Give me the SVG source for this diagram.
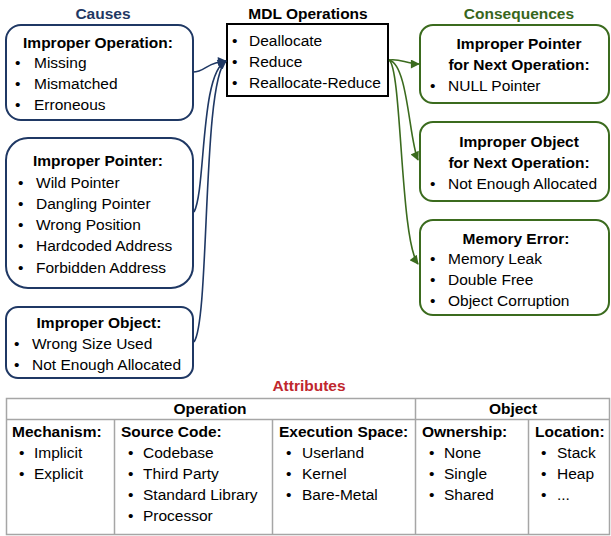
<svg xmlns="http://www.w3.org/2000/svg" width="611" height="536" viewBox="0 0 611 536">
  <style>
    text { font-family: "Liberation Sans", Arial, sans-serif; font-size: 15.5px; fill: #000; }
    .b { font-weight: bold; }
    .c { text-anchor: middle; }
    .blue { fill: #1f3864; }
    .green { fill: #38661c; }
    .red { fill: #c0272d; }
    .cause { fill: #fff; stroke: #1f3864; stroke-width: 2; }
    .cons { fill: #fff; stroke: #3b6b1e; stroke-width: 2; }
    .ops { fill: #fff; stroke: #000; stroke-width: 2; }
    .bl { stroke: #1f3864; stroke-width: 1.6; fill: none; }
    .gr { stroke: #3b6b1e; stroke-width: 1.6; fill: none; }
    .tbl { stroke: #a6a6a6; stroke-width: 1.5; fill: none; }
  </style>
  <defs>
    <marker id="arrBlue" viewBox="0 0 10 10" refX="9" refY="5" markerWidth="10" markerHeight="9" markerUnits="userSpaceOnUse" orient="auto">
      <path d="M0,0 L10,5 L0,10 z" fill="#1f3864"/>
    </marker>
    <marker id="arrGreen" viewBox="0 0 10 10" refX="9" refY="5" markerWidth="11" markerHeight="9" markerUnits="userSpaceOnUse" orient="auto">
      <path d="M0,0 L10,5 L0,10 z" fill="#3b6b1e"/>
    </marker>
  </defs>

  <!-- column headings -->
  <text class="b c blue" x="103" y="19">Causes</text>
  <text class="b c" x="308" y="19">MDL Operations</text>
  <text class="b c green" x="519" y="19">Consequences</text>

  <!-- causes -->
  <g id="cause-operation">
    <rect class="cause" x="6" y="25" width="187" height="95" rx="15"/>
    <text class="b c" x="98" y="48">Improper Operation:</text>
    <text x="15" y="68">•</text><text x="34" y="68">Missing</text>
    <text x="15" y="89">•</text><text x="34" y="89">Mismatched</text>
    <text x="15" y="110">•</text><text x="34" y="110">Erroneous</text>
  </g>
  <g id="cause-pointer">
    <rect class="cause" x="6" y="138" width="187" height="150" rx="22"/>
    <text class="b c" x="98" y="166">Improper Pointer:</text>
    <text x="18" y="188">•</text><text x="36" y="188">Wild Pointer</text>
    <text x="18" y="209">•</text><text x="36" y="209">Dangling Pointer</text>
    <text x="18" y="230">•</text><text x="36" y="230">Wrong Position</text>
    <text x="18" y="251">•</text><text x="36" y="251">Hardcoded Address</text>
    <text x="18" y="273">•</text><text x="36" y="273">Forbidden Address</text>
  </g>
  <g id="cause-object">
    <rect class="cause" x="6" y="307" width="187" height="71" rx="12"/>
    <text class="b c" x="99" y="328">Improper Object:</text>
    <text x="14" y="349">•</text><text x="32" y="349">Wrong Size Used</text>
    <text x="14" y="370">•</text><text x="32" y="370">Not Enough Allocated</text>
  </g>

  <!-- operations -->
  <g id="mdl-operations">
    <rect class="ops" x="227" y="24" width="161" height="72"/>
    <text x="232" y="46">•</text><text x="249" y="46">Deallocate</text>
    <text x="232" y="67">•</text><text x="249" y="67">Reduce</text>
    <text x="232" y="88">•</text><text x="249" y="88">Reallocate-Reduce</text>
  </g>

  <!-- consequences -->
  <g id="cons-pointer">
    <rect class="cons" x="420" y="25" width="189" height="78" rx="13"/>
    <text class="b c" x="519" y="49">Improper Pointer</text>
    <text class="b c" x="519" y="70">for Next Operation:</text>
    <text x="430" y="91">•</text><text x="448" y="91">NULL Pointer</text>
  </g>
  <g id="cons-object">
    <rect class="cons" x="420" y="122" width="189" height="79" rx="13"/>
    <text class="b c" x="519" y="147">Improper Object</text>
    <text class="b c" x="519" y="168">for Next Operation:</text>
    <text x="430" y="189">•</text><text x="448" y="189">Not Enough Allocated</text>
  </g>
  <g id="cons-memory">
    <rect class="cons" x="420" y="220" width="189" height="95" rx="13"/>
    <text class="b c" x="516" y="244">Memory Error:</text>
    <text x="430" y="264">•</text><text x="448" y="264">Memory Leak</text>
    <text x="430" y="285">•</text><text x="448" y="285">Double Free</text>
    <text x="430" y="306">•</text><text x="448" y="306">Object Corruption</text>
  </g>

  <!-- connectors -->
  <g id="connectors">
    <path class="bl" d="M193,72 C205,72 207,62 226,61" marker-end="url(#arrBlue)"/>
    <path class="bl" d="M194,212 C206,190 200,72 226,61" marker-end="url(#arrBlue)"/>
    <path class="bl" d="M194,342 C210,320 202,80 226,61" marker-end="url(#arrBlue)"/>
    <path class="gr" d="M389,60 C400,58 406,64 419,64" marker-end="url(#arrGreen)"/>
    <path class="gr" d="M389,60 C408,64 409,140 418,160" marker-end="url(#arrGreen)"/>
    <path class="gr" d="M389,60 C402,68 400,240 418,264" marker-end="url(#arrGreen)"/>
  </g>

  <!-- attributes table -->
  <g id="attributes">
    <text class="b c red" x="309" y="391">Attributes</text>
    <rect class="tbl" x="6.5" y="398.5" width="603" height="136"/>
    <path class="tbl" d="M6.5,419.5 H609.5 M415.5,398.5 V534.5 M114.5,419.5 V534.5 M272.5,419.5 V534.5 M528.5,419.5 V534.5"/>
    <text class="b c" x="210" y="414">Operation</text>
    <text class="b c" x="513" y="414">Object</text>

    <text class="b" x="12" y="437">Mechanism:</text>
    <text x="19" y="458">•</text><text x="34" y="458">Implicit</text>
    <text x="19" y="479">•</text><text x="34" y="479">Explicit</text>

    <text class="b" x="121" y="437">Source Code:</text>
    <text x="128" y="458">•</text><text x="143" y="458">Codebase</text>
    <text x="128" y="479">•</text><text x="143" y="479">Third Party</text>
    <text x="128" y="500">•</text><text x="143" y="500">Standard Library</text>
    <text x="128" y="521">•</text><text x="143" y="521">Processor</text>

    <text class="b" x="279" y="437">Execution Space:</text>
    <text x="286" y="458">•</text><text x="302" y="458">Userland</text>
    <text x="286" y="479">•</text><text x="302" y="479">Kernel</text>
    <text x="286" y="500">•</text><text x="302" y="500">Bare-Metal</text>

    <text class="b" x="422" y="437">Ownership:</text>
    <text x="429" y="458">•</text><text x="444" y="458">None</text>
    <text x="429" y="479">•</text><text x="444" y="479">Single</text>
    <text x="429" y="500">•</text><text x="444" y="500">Shared</text>

    <text class="b" x="535" y="437">Location:</text>
    <text x="541" y="458">•</text><text x="557" y="458">Stack</text>
    <text x="541" y="479">•</text><text x="557" y="479">Heap</text>
    <text x="541" y="500">•</text><text x="557" y="500">...</text>
  </g>
</svg>
